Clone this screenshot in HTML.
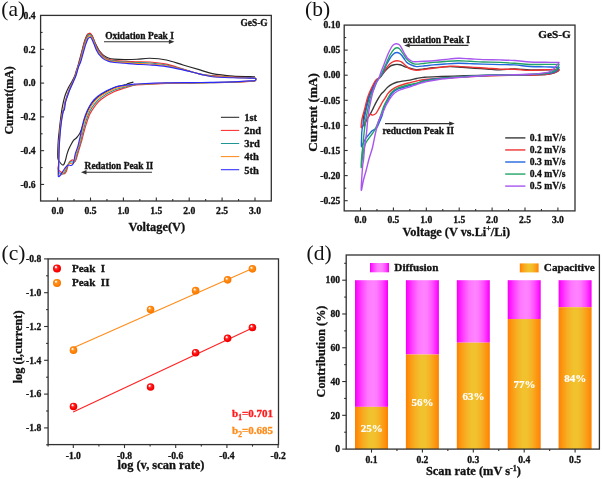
<!DOCTYPE html>
<html><head><meta charset="utf-8"><style>
html,body{margin:0;padding:0;background:#fff;}
body{width:602px;height:479px;overflow:hidden;}
svg{display:block;will-change:transform;font-family:"Liberation Serif", serif;}
</style></head><body>
<svg width="602" height="479" viewBox="0 0 602 479">
<rect x="0" y="0" width="602" height="479" fill="#fff"/>
<rect x="40.60" y="15.40" width="230.70" height="185.60" fill="none" stroke="#303030" stroke-width="1.3"/>
<line x1="57.60" y1="201.00" x2="57.60" y2="197.50" stroke="#303030" stroke-width="1.1"/>
<text x="57.60" y="213.50" font-size="9.6" font-weight="bold" text-anchor="middle" fill="#111" stroke="#111" stroke-width="0.3" >0.0</text>
<line x1="74.05" y1="201.00" x2="74.05" y2="199.00" stroke="#303030" stroke-width="1.1"/>
<line x1="90.50" y1="201.00" x2="90.50" y2="197.50" stroke="#303030" stroke-width="1.1"/>
<text x="90.50" y="213.50" font-size="9.6" font-weight="bold" text-anchor="middle" fill="#111" stroke="#111" stroke-width="0.3" >0.5</text>
<line x1="106.95" y1="201.00" x2="106.95" y2="199.00" stroke="#303030" stroke-width="1.1"/>
<line x1="123.40" y1="201.00" x2="123.40" y2="197.50" stroke="#303030" stroke-width="1.1"/>
<text x="123.40" y="213.50" font-size="9.6" font-weight="bold" text-anchor="middle" fill="#111" stroke="#111" stroke-width="0.3" >1.0</text>
<line x1="139.85" y1="201.00" x2="139.85" y2="199.00" stroke="#303030" stroke-width="1.1"/>
<line x1="156.30" y1="201.00" x2="156.30" y2="197.50" stroke="#303030" stroke-width="1.1"/>
<text x="156.30" y="213.50" font-size="9.6" font-weight="bold" text-anchor="middle" fill="#111" stroke="#111" stroke-width="0.3" >1.5</text>
<line x1="172.75" y1="201.00" x2="172.75" y2="199.00" stroke="#303030" stroke-width="1.1"/>
<line x1="189.20" y1="201.00" x2="189.20" y2="197.50" stroke="#303030" stroke-width="1.1"/>
<text x="189.20" y="213.50" font-size="9.6" font-weight="bold" text-anchor="middle" fill="#111" stroke="#111" stroke-width="0.3" >2.0</text>
<line x1="205.65" y1="201.00" x2="205.65" y2="199.00" stroke="#303030" stroke-width="1.1"/>
<line x1="222.10" y1="201.00" x2="222.10" y2="197.50" stroke="#303030" stroke-width="1.1"/>
<text x="222.10" y="213.50" font-size="9.6" font-weight="bold" text-anchor="middle" fill="#111" stroke="#111" stroke-width="0.3" >2.5</text>
<line x1="238.55" y1="201.00" x2="238.55" y2="199.00" stroke="#303030" stroke-width="1.1"/>
<line x1="255.00" y1="201.00" x2="255.00" y2="197.50" stroke="#303030" stroke-width="1.1"/>
<text x="255.00" y="213.50" font-size="9.6" font-weight="bold" text-anchor="middle" fill="#111" stroke="#111" stroke-width="0.3" >3.0</text>
<text x="35.60" y="18.74" font-size="9.6" font-weight="bold" text-anchor="end" fill="#111" stroke="#111" stroke-width="0.3" >0.4</text>
<line x1="40.60" y1="49.32" x2="44.10" y2="49.32" stroke="#303030" stroke-width="1.1"/>
<text x="35.60" y="52.52" font-size="9.6" font-weight="bold" text-anchor="end" fill="#111" stroke="#111" stroke-width="0.3" >0.2</text>
<line x1="40.60" y1="83.10" x2="44.10" y2="83.10" stroke="#303030" stroke-width="1.1"/>
<text x="35.60" y="86.30" font-size="9.6" font-weight="bold" text-anchor="end" fill="#111" stroke="#111" stroke-width="0.3" >0.0</text>
<line x1="40.60" y1="116.88" x2="44.10" y2="116.88" stroke="#303030" stroke-width="1.1"/>
<text x="35.60" y="120.08" font-size="9.6" font-weight="bold" text-anchor="end" fill="#111" stroke="#111" stroke-width="0.3" >-0.2</text>
<line x1="40.60" y1="150.66" x2="44.10" y2="150.66" stroke="#303030" stroke-width="1.1"/>
<text x="35.60" y="153.86" font-size="9.6" font-weight="bold" text-anchor="end" fill="#111" stroke="#111" stroke-width="0.3" >-0.4</text>
<line x1="40.60" y1="184.44" x2="44.10" y2="184.44" stroke="#303030" stroke-width="1.1"/>
<text x="35.60" y="187.64" font-size="9.6" font-weight="bold" text-anchor="end" fill="#111" stroke="#111" stroke-width="0.3" >-0.6</text>
<line x1="40.60" y1="32.43" x2="42.60" y2="32.43" stroke="#303030" stroke-width="1.1"/>
<line x1="40.60" y1="66.21" x2="42.60" y2="66.21" stroke="#303030" stroke-width="1.1"/>
<line x1="40.60" y1="99.99" x2="42.60" y2="99.99" stroke="#303030" stroke-width="1.1"/>
<line x1="40.60" y1="133.77" x2="42.60" y2="133.77" stroke="#303030" stroke-width="1.1"/>
<line x1="40.60" y1="167.55" x2="42.60" y2="167.55" stroke="#303030" stroke-width="1.1"/>
<text x="156.85" y="231.00" font-size="12.35" font-weight="bold" text-anchor="middle" fill="#111" stroke="#111" stroke-width="0.3" >Voltage(V)</text>
<text transform="translate(12.7,100.4) rotate(-90)" font-size="12" font-weight="bold" text-anchor="middle" fill="#111" stroke="#111" stroke-width="0.3">Current(mA)</text>
<text x="1.30" y="16.30" font-size="21.5" font-weight="normal" text-anchor="start" fill="#111" stroke="#111" stroke-width="0" >(a)</text>
<text x="267.60" y="26.20" font-size="9.4" font-weight="bold" text-anchor="end" fill="#111" stroke="#111" stroke-width="0.3" >GeS-G</text>
<text x="105.20" y="39.00" font-size="9.45" font-weight="bold" text-anchor="start" fill="#111" stroke="#111" stroke-width="0.3" >Oxidation Peak I</text>
<line x1="104.00" y1="41.70" x2="169.90" y2="41.70" stroke="#303030" stroke-width="1.1"/>
<path d="M174.40,41.70 L168.90,39.50 L168.90,43.90 Z" fill="#303030"/>
<text x="84.60" y="168.50" font-size="9.45" font-weight="bold" text-anchor="start" fill="#111" stroke="#111" stroke-width="0.3" >Redation Peak II</text>
<line x1="85.50" y1="172.30" x2="152.00" y2="172.30" stroke="#303030" stroke-width="1.1"/>
<path d="M81.00,172.30 L86.50,170.10 L86.50,174.50 Z" fill="#303030"/>
<line x1="220.90" y1="117.30" x2="239.20" y2="117.30" stroke="#262626" stroke-width="1.05"/>
<text x="244.20" y="121.10" font-size="10.5" font-weight="bold" text-anchor="start" fill="#111" stroke="#111" stroke-width="0.3" >1st</text>
<line x1="220.90" y1="130.40" x2="239.20" y2="130.40" stroke="#ff2b2b" stroke-width="1.05"/>
<text x="244.20" y="134.20" font-size="10.5" font-weight="bold" text-anchor="start" fill="#111" stroke="#111" stroke-width="0.3" >2nd</text>
<line x1="220.90" y1="143.50" x2="239.20" y2="143.50" stroke="#1e9696" stroke-width="1.05"/>
<text x="244.20" y="147.30" font-size="10.5" font-weight="bold" text-anchor="start" fill="#111" stroke="#111" stroke-width="0.3" >3rd</text>
<line x1="220.90" y1="156.60" x2="239.20" y2="156.60" stroke="#ff8a1e" stroke-width="1.05"/>
<text x="244.20" y="160.40" font-size="10.5" font-weight="bold" text-anchor="start" fill="#111" stroke="#111" stroke-width="0.3" >4th</text>
<line x1="220.90" y1="169.70" x2="239.20" y2="169.70" stroke="#2a2aff" stroke-width="1.05"/>
<text x="244.20" y="173.50" font-size="10.5" font-weight="bold" text-anchor="start" fill="#111" stroke="#111" stroke-width="0.3" >5th</text>
<path d="M133.40,82.10 C132.50,82.35 129.42,83.13 128.00,83.60 C126.58,84.07 126.90,84.33 124.90,84.90 C122.90,85.47 119.07,85.92 116.00,87.00 C112.93,88.08 109.75,89.55 106.50,91.40 C103.25,93.25 99.27,95.60 96.50,98.10 C93.73,100.60 91.72,103.37 89.90,106.40 C88.08,109.43 86.83,112.95 85.60,116.30 C84.37,119.65 83.43,123.72 82.50,126.50 C81.57,129.28 80.95,131.17 80.00,133.00 C79.05,134.83 77.88,136.27 76.80,137.50 C75.72,138.73 74.43,139.28 73.50,140.40 C72.57,141.52 72.00,142.73 71.20,144.20 C70.40,145.67 69.40,147.53 68.70,149.20 C68.00,150.87 67.55,152.32 67.00,154.20 C66.45,156.08 65.95,158.75 65.40,160.50 C64.85,162.25 64.27,164.02 63.70,164.70 C63.13,165.38 62.70,165.10 62.00,164.60 C61.30,164.10 60.18,162.73 59.50,161.70 C58.82,160.67 58.18,160.35 57.90,158.40 C57.62,156.45 57.73,153.07 57.80,150.00 C57.87,146.93 58.08,143.00 58.30,140.00 C58.52,137.00 58.78,135.00 59.10,132.00 C59.42,129.00 59.75,125.67 60.20,122.00 C60.65,118.33 61.27,113.37 61.80,110.00 C62.33,106.63 62.80,104.38 63.40,101.80 C64.00,99.22 64.53,96.93 65.40,94.50 C66.27,92.07 67.55,89.30 68.60,87.20 C69.65,85.10 70.67,83.82 71.70,81.90 C72.73,79.98 74.02,77.62 74.80,75.70 C75.58,73.78 75.93,71.85 76.40,70.40 C76.87,68.95 77.08,68.73 77.60,67.00 C78.12,65.27 78.87,62.33 79.50,60.00 C80.13,57.67 80.80,55.25 81.40,53.00 C82.00,50.75 82.53,48.58 83.10,46.50 C83.67,44.42 84.12,42.43 84.80,40.50 C85.48,38.57 86.50,36.05 87.20,34.90 C87.90,33.75 88.32,33.65 89.00,33.60 C89.68,33.55 90.60,33.82 91.30,34.60 C92.00,35.38 92.55,36.90 93.20,38.30 C93.85,39.70 94.48,41.47 95.20,43.00 C95.92,44.53 96.70,46.08 97.50,47.50 C98.30,48.92 98.92,50.15 100.00,51.50 C101.08,52.85 102.62,54.52 104.00,55.60 C105.38,56.68 106.63,57.42 108.30,58.00 C109.97,58.58 111.23,58.83 114.00,59.10 C116.77,59.37 121.07,59.57 124.90,59.60 C128.73,59.63 132.85,59.52 137.00,59.30 C141.15,59.08 144.90,58.18 149.80,58.30 C154.70,58.42 160.85,58.88 166.40,60.00 C171.95,61.12 177.50,63.35 183.10,65.00 C188.70,66.65 195.13,68.47 200.00,69.90 C204.87,71.33 206.80,72.57 212.30,73.60 C217.80,74.63 226.72,75.60 233.00,76.10 C239.28,76.60 246.33,76.48 250.00,76.60 C253.67,76.72 254.17,76.77 255.00,76.80" fill="none" stroke="#262626" stroke-width="1.15"/>
<path d="M58.30,169.50 C57.43,168.03 58.45,166.92 58.50,165.00 C58.55,163.08 58.57,160.50 58.60,158.00 C58.63,155.50 58.58,153.33 58.70,150.00 C58.82,146.67 59.05,141.83 59.30,138.00 C59.55,134.17 59.85,130.33 60.20,127.00 C60.55,123.67 60.97,120.67 61.40,118.00 C61.83,115.33 62.40,112.42 62.80,111.00 C63.20,109.58 63.47,110.87 63.80,109.50 C64.13,108.13 64.37,104.78 64.80,102.80 C65.23,100.82 65.70,99.68 66.40,97.60 C67.10,95.52 68.03,92.73 69.00,90.30 C69.97,87.87 71.17,85.43 72.20,83.00 C73.23,80.57 74.45,77.80 75.20,75.70 C75.95,73.60 76.25,71.85 76.70,70.40 C77.15,68.95 77.38,68.65 77.90,67.00 C78.42,65.35 79.17,62.83 79.80,60.50 C80.43,58.17 81.12,55.33 81.70,53.00 C82.28,50.67 82.75,48.58 83.30,46.50 C83.85,44.42 84.30,42.47 85.00,40.50 C85.70,38.53 86.77,35.92 87.50,34.70 C88.23,33.48 88.78,33.27 89.40,33.20 C90.02,33.13 90.67,33.73 91.20,34.30 C91.73,34.87 92.17,35.72 92.60,36.60 C93.03,37.48 93.40,38.53 93.80,39.60 C94.20,40.67 94.47,41.68 95.00,43.00 C95.53,44.32 96.30,46.10 97.00,47.50 C97.70,48.90 98.13,49.92 99.20,51.40 C100.27,52.88 101.88,55.10 103.40,56.40 C104.92,57.70 106.70,58.57 108.30,59.20 C109.90,59.83 110.23,59.85 113.00,60.20 C115.77,60.55 121.23,61.05 124.90,61.30 C128.57,61.55 130.85,61.58 135.00,61.70 C139.15,61.82 144.57,61.60 149.80,62.00 C155.03,62.40 160.85,62.92 166.40,64.10 C171.95,65.28 177.50,67.43 183.10,69.10 C188.70,70.77 195.13,73.02 200.00,74.10 C204.87,75.18 206.80,75.12 212.30,75.60 C217.80,76.08 226.72,76.65 233.00,77.00 C239.28,77.35 246.35,77.53 250.00,77.70 C253.65,77.87 253.90,77.73 254.90,78.00 C255.90,78.27 256.02,78.77 256.00,79.30 C255.98,79.83 255.85,80.83 254.80,81.20 C253.75,81.57 253.33,81.32 249.70,81.50 C246.07,81.68 239.62,82.08 233.00,82.30 C226.38,82.52 216.92,82.67 210.00,82.80 C203.08,82.93 198.77,83.00 191.50,83.10 C184.23,83.20 174.73,83.15 166.40,83.40 C158.07,83.65 147.07,84.25 141.50,84.60 C135.93,84.95 135.77,84.93 133.00,85.50 C130.23,86.07 128.08,86.95 124.90,88.00 C121.72,89.05 117.83,89.93 113.90,91.80 C109.97,93.67 104.43,96.87 101.30,99.20 C98.17,101.53 96.98,103.37 95.10,105.80 C93.22,108.23 91.47,110.78 90.00,113.80 C88.53,116.82 87.33,120.77 86.30,123.90 C85.27,127.03 84.53,129.92 83.80,132.60 C83.07,135.28 82.47,137.93 81.90,140.00 C81.33,142.07 81.07,142.77 80.40,145.00 C79.73,147.23 78.60,151.03 77.90,153.40 C77.20,155.77 76.77,157.82 76.20,159.20 C75.63,160.58 75.05,161.57 74.50,161.70 C73.95,161.83 73.45,160.20 72.90,160.00 C72.35,159.80 71.90,159.93 71.20,160.50 C70.50,161.07 69.53,161.53 68.70,163.40 C67.87,165.27 67.03,169.97 66.20,171.70 C65.37,173.43 65.02,174.17 63.70,173.80 C62.38,173.43 59.17,170.97 58.30,169.50 Z" fill="none" stroke="#ff2b2b" stroke-width="1.15"/>
<path d="M58.30,171.81 C57.63,170.56 58.47,168.89 58.53,166.70 C58.60,164.51 58.62,161.46 58.67,158.68 C58.72,155.90 58.70,153.45 58.84,150.00 C58.97,146.55 59.21,141.83 59.47,138.00 C59.73,134.17 60.05,130.33 60.40,127.00 C60.76,123.67 61.17,120.67 61.60,118.00 C62.04,115.33 62.60,112.42 63.00,111.00 C63.40,109.58 63.67,110.87 64.00,109.50 C64.34,108.13 64.57,104.78 65.00,102.80 C65.44,100.82 65.90,99.68 66.60,97.60 C67.30,95.52 68.24,92.73 69.20,90.30 C70.17,87.87 71.36,85.43 72.40,83.00 C73.44,80.57 74.68,77.80 75.44,75.70 C76.20,73.60 76.53,71.85 76.97,70.40 C77.42,68.95 77.58,68.59 78.10,67.00 C78.63,65.41 79.50,63.03 80.14,60.84 C80.78,58.65 81.39,56.07 81.97,53.85 C82.55,51.63 83.05,49.55 83.61,47.52 C84.16,45.49 84.63,43.55 85.31,41.66 C85.98,39.76 86.93,37.31 87.64,36.13 C88.34,34.95 88.94,34.66 89.54,34.56 C90.13,34.47 90.70,35.00 91.20,35.56 C91.70,36.12 92.11,36.97 92.57,37.93 C93.02,38.88 93.48,40.09 93.94,41.27 C94.39,42.45 94.77,43.71 95.31,45.01 C95.85,46.30 96.52,47.78 97.17,49.03 C97.82,50.28 98.16,51.15 99.20,52.52 C100.24,53.89 101.92,56.04 103.40,57.25 C104.88,58.46 106.46,59.17 108.06,59.78 C109.66,60.39 110.19,60.55 113.00,60.91 C115.81,61.28 121.23,61.71 124.90,61.98 C128.57,62.25 130.85,62.38 135.00,62.55 C139.15,62.72 144.57,62.62 149.80,63.02 C155.03,63.42 160.85,63.89 166.40,64.95 C171.95,66.01 177.50,67.85 183.10,69.37 C188.70,70.90 195.13,73.00 200.00,74.10 C204.87,75.20 206.80,75.45 212.30,75.97 C217.80,76.50 226.72,76.96 233.00,77.27 C239.28,77.58 246.35,77.70 250.00,77.84 C253.65,77.97 253.90,77.83 254.90,78.07 C255.90,78.31 256.03,78.77 256.00,79.27 C255.97,79.76 255.75,80.69 254.70,81.03 C253.65,81.37 253.32,81.11 249.70,81.30 C246.08,81.48 239.62,81.94 233.00,82.16 C226.38,82.39 216.92,82.54 210.00,82.66 C203.08,82.79 198.77,82.84 191.50,82.93 C184.23,83.02 174.73,83.00 166.40,83.23 C158.07,83.46 147.07,83.98 141.50,84.29 C135.93,84.60 135.77,84.63 133.00,85.09 C130.23,85.56 128.08,86.21 124.90,87.08 C121.72,87.96 117.83,88.62 113.90,90.34 C109.97,92.05 104.51,95.12 101.30,97.36 C98.09,99.61 96.61,101.44 94.66,103.83 C92.71,106.22 91.06,108.78 89.59,111.69 C88.13,114.61 86.90,118.26 85.86,121.32 C84.82,124.38 84.11,127.13 83.36,130.05 C82.60,132.97 81.95,136.27 81.32,138.81 C80.69,141.35 80.30,142.84 79.58,145.27 C78.87,147.70 77.73,151.03 77.05,153.40 C76.37,155.77 75.98,157.99 75.49,159.47 C74.99,160.95 74.62,161.88 74.09,162.28 C73.56,162.68 72.95,161.91 72.32,161.87 C71.70,161.83 71.10,161.59 70.35,162.03 C69.60,162.47 68.68,163.01 67.85,164.52 C67.02,166.04 66.23,169.50 65.35,171.12 C64.47,172.74 63.75,174.13 62.58,174.24 C61.40,174.36 58.97,173.07 58.30,171.81 Z" fill="none" stroke="#1e9696" stroke-width="1.15"/>
<path d="M58.30,174.06 C57.81,173.00 58.49,170.80 58.57,168.35 C58.64,165.90 58.67,162.40 58.73,159.34 C58.80,156.28 58.82,153.56 58.97,150.00 C59.12,146.44 59.36,141.83 59.63,138.00 C59.91,134.17 60.24,130.33 60.60,127.00 C60.96,123.67 61.37,120.67 61.80,118.00 C62.24,115.33 62.80,112.42 63.20,111.00 C63.60,109.58 63.87,110.87 64.20,109.50 C64.54,108.13 64.77,104.78 65.20,102.80 C65.64,100.82 66.10,99.68 66.80,97.60 C67.50,95.52 68.44,92.73 69.40,90.30 C70.37,87.87 71.56,85.43 72.60,83.00 C73.65,80.57 74.90,77.80 75.67,75.70 C76.44,73.60 76.80,71.85 77.24,70.40 C77.67,68.95 77.76,68.54 78.30,67.00 C78.84,65.46 79.81,63.22 80.47,61.17 C81.13,59.12 81.66,56.78 82.24,54.67 C82.81,52.56 83.34,50.49 83.90,48.51 C84.46,46.53 84.96,44.61 85.60,42.78 C86.25,40.95 87.09,38.66 87.77,37.51 C88.45,36.36 89.10,36.00 89.67,35.88 C90.24,35.76 90.72,36.22 91.20,36.78 C91.68,37.33 92.05,38.20 92.53,39.21 C93.01,40.23 93.56,41.59 94.07,42.88 C94.58,44.17 95.06,45.68 95.60,46.95 C96.15,48.23 96.74,49.41 97.33,50.52 C97.93,51.62 98.19,52.35 99.20,53.61 C100.21,54.87 101.96,56.95 103.40,58.07 C104.84,59.20 106.23,59.75 107.83,60.34 C109.43,60.93 110.16,61.22 113.00,61.61 C115.84,61.99 121.23,62.35 124.90,62.64 C128.57,62.93 130.85,63.15 135.00,63.38 C139.15,63.60 144.57,63.61 149.80,64.01 C155.03,64.41 160.85,64.84 166.40,65.77 C171.95,66.71 177.50,68.25 183.10,69.64 C188.70,71.02 195.13,72.98 200.00,74.10 C204.87,75.22 206.80,75.76 212.30,76.34 C217.80,76.91 226.72,77.26 233.00,77.54 C239.28,77.81 246.35,77.87 250.00,77.97 C253.65,78.07 253.90,77.92 254.90,78.13 C255.90,78.34 256.05,78.78 256.00,79.23 C255.95,79.69 255.65,80.55 254.60,80.86 C253.55,81.18 253.30,80.90 249.70,81.10 C246.10,81.29 239.62,81.79 233.00,82.03 C226.38,82.27 216.92,82.41 210.00,82.53 C203.08,82.65 198.77,82.68 191.50,82.76 C184.23,82.85 174.73,82.86 166.40,83.06 C158.07,83.27 147.07,83.73 141.50,84.00 C135.93,84.27 135.77,84.33 133.00,84.70 C130.23,85.06 128.08,85.49 124.90,86.19 C121.72,86.89 117.83,87.35 113.90,88.92 C109.97,90.48 104.58,93.42 101.30,95.58 C98.02,97.75 96.25,99.57 94.23,101.91 C92.21,104.26 90.66,106.83 89.20,109.65 C87.73,112.46 86.47,115.82 85.43,118.81 C84.38,121.80 83.71,124.43 82.93,127.57 C82.15,130.72 81.45,134.66 80.76,137.65 C80.07,140.65 79.55,142.91 78.79,145.54 C78.04,148.16 76.89,151.03 76.23,153.40 C75.56,155.77 75.21,158.16 74.79,159.74 C74.37,161.31 74.20,162.18 73.70,162.84 C73.19,163.50 72.46,163.57 71.76,163.69 C71.07,163.80 70.31,163.19 69.53,163.51 C68.74,163.84 67.86,164.44 67.03,165.61 C66.19,166.79 65.45,169.05 64.53,170.56 C63.60,172.07 62.53,174.09 61.49,174.67 C60.45,175.25 58.79,175.11 58.30,174.06 Z" fill="none" stroke="#ff8a1e" stroke-width="1.15"/>
<path d="M58.30,176.30 C58.00,175.45 58.52,172.72 58.60,170.00 C58.68,167.28 58.72,163.33 58.80,160.00 C58.88,156.67 58.93,153.67 59.10,150.00 C59.27,146.33 59.52,141.83 59.80,138.00 C60.08,134.17 60.43,130.33 60.80,127.00 C61.17,123.67 61.57,120.67 62.00,118.00 C62.43,115.33 63.00,112.42 63.40,111.00 C63.80,109.58 64.07,110.87 64.40,109.50 C64.73,108.13 64.97,104.78 65.40,102.80 C65.83,100.82 66.30,99.68 67.00,97.60 C67.70,95.52 68.63,92.73 69.60,90.30 C70.57,87.87 71.75,85.43 72.80,83.00 C73.85,80.57 75.12,77.80 75.90,75.70 C76.68,73.60 77.07,71.85 77.50,70.40 C77.93,68.95 77.95,68.48 78.50,67.00 C79.05,65.52 80.13,63.42 80.80,61.50 C81.47,59.58 81.93,57.50 82.50,55.50 C83.07,53.50 83.63,51.43 84.20,49.50 C84.77,47.57 85.28,45.67 85.90,43.90 C86.52,42.13 87.25,40.02 87.90,38.90 C88.55,37.78 89.25,37.35 89.80,37.20 C90.35,37.05 90.75,37.45 91.20,38.00 C91.65,38.55 92.00,39.42 92.50,40.50 C93.00,41.58 93.63,43.10 94.20,44.50 C94.77,45.90 95.35,47.65 95.90,48.90 C96.45,50.15 96.95,51.03 97.50,52.00 C98.05,52.97 98.22,53.55 99.20,54.70 C100.18,55.85 102.00,57.87 103.40,58.90 C104.80,59.93 106.00,60.33 107.60,60.90 C109.20,61.47 110.12,61.90 113.00,62.30 C115.88,62.70 121.23,62.98 124.90,63.30 C128.57,63.62 130.85,63.92 135.00,64.20 C139.15,64.48 144.57,64.60 149.80,65.00 C155.03,65.40 160.85,65.78 166.40,66.60 C171.95,67.42 177.50,68.65 183.10,69.90 C188.70,71.15 195.13,72.97 200.00,74.10 C204.87,75.23 206.80,76.08 212.30,76.70 C217.80,77.32 226.72,77.57 233.00,77.80 C239.28,78.03 246.35,78.03 250.00,78.10 C253.65,78.17 253.90,78.02 254.90,78.20 C255.90,78.38 256.07,78.78 256.00,79.20 C255.93,79.62 255.55,80.42 254.50,80.70 C253.45,80.98 253.28,80.70 249.70,80.90 C246.12,81.10 239.62,81.65 233.00,81.90 C226.38,82.15 216.92,82.28 210.00,82.40 C203.08,82.52 198.77,82.52 191.50,82.60 C184.23,82.68 174.73,82.72 166.40,82.90 C158.07,83.08 147.07,83.47 141.50,83.70 C135.93,83.93 135.77,84.03 133.00,84.30 C130.23,84.57 128.08,84.77 124.90,85.30 C121.72,85.83 117.83,86.08 113.90,87.50 C109.97,88.92 104.65,91.72 101.30,93.80 C97.95,95.88 95.88,97.70 93.80,100.00 C91.72,102.30 90.27,104.88 88.80,107.60 C87.33,110.32 86.05,113.38 85.00,116.30 C83.95,119.22 83.30,121.73 82.50,125.10 C81.70,128.47 80.95,133.05 80.20,136.50 C79.45,139.95 78.80,142.98 78.00,145.80 C77.20,148.62 76.05,151.03 75.40,153.40 C74.75,155.77 74.45,158.33 74.10,160.00 C73.75,161.67 73.78,162.48 73.30,163.40 C72.82,164.32 71.97,165.23 71.20,165.50 C70.43,165.77 69.53,164.80 68.70,165.00 C67.87,165.20 67.03,165.87 66.20,166.70 C65.37,167.53 64.67,168.60 63.70,170.00 C62.73,171.40 61.30,174.05 60.40,175.10 C59.50,176.15 58.60,177.15 58.30,176.30 Z" fill="none" stroke="#2a2aff" stroke-width="1.15"/>
<rect x="344.20" y="25.10" width="230.80" height="185.80" fill="none" stroke="#303030" stroke-width="1.3"/>
<line x1="360.50" y1="210.90" x2="360.50" y2="207.40" stroke="#303030" stroke-width="1.1"/>
<text x="360.50" y="223.30" font-size="9.6" font-weight="bold" text-anchor="middle" fill="#111" stroke="#111" stroke-width="0.3" >0.0</text>
<line x1="376.95" y1="210.90" x2="376.95" y2="208.90" stroke="#303030" stroke-width="1.1"/>
<line x1="393.40" y1="210.90" x2="393.40" y2="207.40" stroke="#303030" stroke-width="1.1"/>
<text x="393.40" y="223.30" font-size="9.6" font-weight="bold" text-anchor="middle" fill="#111" stroke="#111" stroke-width="0.3" >0.5</text>
<line x1="409.85" y1="210.90" x2="409.85" y2="208.90" stroke="#303030" stroke-width="1.1"/>
<line x1="426.30" y1="210.90" x2="426.30" y2="207.40" stroke="#303030" stroke-width="1.1"/>
<text x="426.30" y="223.30" font-size="9.6" font-weight="bold" text-anchor="middle" fill="#111" stroke="#111" stroke-width="0.3" >1.0</text>
<line x1="442.75" y1="210.90" x2="442.75" y2="208.90" stroke="#303030" stroke-width="1.1"/>
<line x1="459.20" y1="210.90" x2="459.20" y2="207.40" stroke="#303030" stroke-width="1.1"/>
<text x="459.20" y="223.30" font-size="9.6" font-weight="bold" text-anchor="middle" fill="#111" stroke="#111" stroke-width="0.3" >1.5</text>
<line x1="475.65" y1="210.90" x2="475.65" y2="208.90" stroke="#303030" stroke-width="1.1"/>
<line x1="492.10" y1="210.90" x2="492.10" y2="207.40" stroke="#303030" stroke-width="1.1"/>
<text x="492.10" y="223.30" font-size="9.6" font-weight="bold" text-anchor="middle" fill="#111" stroke="#111" stroke-width="0.3" >2.0</text>
<line x1="508.55" y1="210.90" x2="508.55" y2="208.90" stroke="#303030" stroke-width="1.1"/>
<line x1="525.00" y1="210.90" x2="525.00" y2="207.40" stroke="#303030" stroke-width="1.1"/>
<text x="525.00" y="223.30" font-size="9.6" font-weight="bold" text-anchor="middle" fill="#111" stroke="#111" stroke-width="0.3" >2.5</text>
<line x1="541.45" y1="210.90" x2="541.45" y2="208.90" stroke="#303030" stroke-width="1.1"/>
<line x1="557.90" y1="210.90" x2="557.90" y2="207.40" stroke="#303030" stroke-width="1.1"/>
<text x="557.90" y="223.30" font-size="9.6" font-weight="bold" text-anchor="middle" fill="#111" stroke="#111" stroke-width="0.3" >3.0</text>
<text x="340.30" y="28.20" font-size="9.6" font-weight="bold" text-anchor="end" fill="#111" stroke="#111" stroke-width="0.3" >0.10</text>
<line x1="344.20" y1="50.10" x2="347.70" y2="50.10" stroke="#303030" stroke-width="1.1"/>
<text x="340.30" y="53.30" font-size="9.6" font-weight="bold" text-anchor="end" fill="#111" stroke="#111" stroke-width="0.3" >0.05</text>
<line x1="344.20" y1="75.20" x2="347.70" y2="75.20" stroke="#303030" stroke-width="1.1"/>
<text x="340.30" y="78.40" font-size="9.6" font-weight="bold" text-anchor="end" fill="#111" stroke="#111" stroke-width="0.3" >0.00</text>
<line x1="344.20" y1="100.30" x2="347.70" y2="100.30" stroke="#303030" stroke-width="1.1"/>
<text x="340.30" y="103.50" font-size="9.6" font-weight="bold" text-anchor="end" fill="#111" stroke="#111" stroke-width="0.3" >-0.05</text>
<line x1="344.20" y1="125.40" x2="347.70" y2="125.40" stroke="#303030" stroke-width="1.1"/>
<text x="340.30" y="128.60" font-size="9.6" font-weight="bold" text-anchor="end" fill="#111" stroke="#111" stroke-width="0.3" >-0.10</text>
<line x1="344.20" y1="150.50" x2="347.70" y2="150.50" stroke="#303030" stroke-width="1.1"/>
<text x="340.30" y="153.70" font-size="9.6" font-weight="bold" text-anchor="end" fill="#111" stroke="#111" stroke-width="0.3" >-0.15</text>
<line x1="344.20" y1="175.60" x2="347.70" y2="175.60" stroke="#303030" stroke-width="1.1"/>
<text x="340.30" y="178.80" font-size="9.6" font-weight="bold" text-anchor="end" fill="#111" stroke="#111" stroke-width="0.3" >-0.20</text>
<line x1="344.20" y1="200.70" x2="347.70" y2="200.70" stroke="#303030" stroke-width="1.1"/>
<text x="340.30" y="203.90" font-size="9.6" font-weight="bold" text-anchor="end" fill="#111" stroke="#111" stroke-width="0.3" >-0.25</text>
<line x1="344.20" y1="37.55" x2="346.20" y2="37.55" stroke="#303030" stroke-width="1.1"/>
<line x1="344.20" y1="62.65" x2="346.20" y2="62.65" stroke="#303030" stroke-width="1.1"/>
<line x1="344.20" y1="87.75" x2="346.20" y2="87.75" stroke="#303030" stroke-width="1.1"/>
<line x1="344.20" y1="112.85" x2="346.20" y2="112.85" stroke="#303030" stroke-width="1.1"/>
<line x1="344.20" y1="137.95" x2="346.20" y2="137.95" stroke="#303030" stroke-width="1.1"/>
<line x1="344.20" y1="163.05" x2="346.20" y2="163.05" stroke="#303030" stroke-width="1.1"/>
<line x1="344.20" y1="188.15" x2="346.20" y2="188.15" stroke="#303030" stroke-width="1.1"/>
<text x="456.3" y="235.9" font-size="12.3" font-weight="bold" text-anchor="middle" fill="#111" stroke="#111" stroke-width="0.3">Voltage (V vs.Li<tspan font-size="8" dy="-4.5">+</tspan><tspan dy="4.5">/Li)</tspan></text>
<text transform="translate(317.3,112.4) rotate(-90)" font-size="13.2" font-weight="bold" text-anchor="middle" fill="#111" stroke="#111" stroke-width="0.3">Current (mA)</text>
<text x="305.00" y="16.30" font-size="21.5" font-weight="normal" text-anchor="start" fill="#111" stroke="#111" stroke-width="0" >(b)</text>
<text x="570.70" y="38.30" font-size="11.2" font-weight="bold" text-anchor="end" fill="#111" stroke="#111" stroke-width="0.3" >GeS-G</text>
<text x="402.80" y="42.50" font-size="9.6" font-weight="bold" text-anchor="start" fill="#111" stroke="#111" stroke-width="0.3" >oxidation Peak I</text>
<line x1="408.70" y1="45.40" x2="468.40" y2="45.40" stroke="#303030" stroke-width="1.1"/>
<path d="M404.20,45.40 L409.70,43.20 L409.70,47.60 Z" fill="#303030"/>
<text x="382.50" y="134.00" font-size="9.55" font-weight="bold" text-anchor="start" fill="#111" stroke="#111" stroke-width="0.3" >reduction Peak II</text>
<line x1="385.00" y1="123.60" x2="450.20" y2="123.60" stroke="#303030" stroke-width="1.1"/>
<path d="M454.70,123.60 L449.20,121.40 L449.20,125.80 Z" fill="#303030"/>
<line x1="505.20" y1="137.90" x2="525.40" y2="137.90" stroke="#3a3a3a" stroke-width="1.4"/>
<text x="529.80" y="141.10" font-size="9.6" font-weight="bold" text-anchor="start" fill="#111" stroke="#111" stroke-width="0.3" >0.1 mV/s</text>
<line x1="505.20" y1="149.95" x2="525.40" y2="149.95" stroke="#ee3333" stroke-width="1.4"/>
<text x="529.80" y="153.15" font-size="9.6" font-weight="bold" text-anchor="start" fill="#111" stroke="#111" stroke-width="0.3" >0.2 mV/s</text>
<line x1="505.20" y1="162.00" x2="525.40" y2="162.00" stroke="#2266dd" stroke-width="1.4"/>
<text x="529.80" y="165.20" font-size="9.6" font-weight="bold" text-anchor="start" fill="#111" stroke="#111" stroke-width="0.3" >0.3 mV/s</text>
<line x1="505.20" y1="174.05" x2="525.40" y2="174.05" stroke="#22a366" stroke-width="1.4"/>
<text x="529.80" y="177.25" font-size="9.6" font-weight="bold" text-anchor="start" fill="#111" stroke="#111" stroke-width="0.3" >0.4 mV/s</text>
<line x1="505.20" y1="186.10" x2="525.40" y2="186.10" stroke="#a855ee" stroke-width="1.4"/>
<text x="529.80" y="189.30" font-size="9.6" font-weight="bold" text-anchor="start" fill="#111" stroke="#111" stroke-width="0.3" >0.5 mV/s</text>
<path d="M364.30,126.00 C363.92,125.58 363.25,121.83 363.20,120.00 C363.15,118.17 363.63,116.67 364.00,115.00 C364.37,113.33 364.77,112.50 365.40,110.00 C366.03,107.50 367.13,102.50 367.80,100.00 C368.47,97.50 368.78,96.67 369.40,95.00 C370.02,93.33 370.77,91.67 371.50,90.00 C372.23,88.33 372.92,86.67 373.80,85.00 C374.68,83.33 375.68,81.33 376.80,80.00 C377.92,78.67 379.13,78.50 380.50,77.00 C381.87,75.50 383.42,72.78 385.00,71.00 C386.58,69.22 388.50,67.33 390.00,66.30 C391.50,65.27 392.83,65.12 394.00,64.80 C395.17,64.48 396.00,64.40 397.00,64.40 C398.00,64.40 399.07,64.58 400.00,64.80 C400.93,65.02 401.60,65.30 402.60,65.70 C403.60,66.10 404.77,66.78 406.00,67.20 C407.23,67.62 408.23,67.80 410.00,68.20 C411.77,68.60 414.10,69.50 416.60,69.60 C419.10,69.70 422.27,69.10 425.00,68.80 C427.73,68.50 428.87,68.17 433.00,67.80 C437.13,67.43 444.97,66.68 449.80,66.60 C454.63,66.52 457.83,67.03 462.00,67.30 C466.17,67.57 470.63,67.92 474.80,68.20 C478.97,68.48 482.80,68.72 487.00,69.00 C491.20,69.28 495.37,69.92 500.00,69.90 C504.63,69.88 509.80,68.88 514.80,68.90 C519.80,68.92 524.97,69.83 530.00,70.00 C535.03,70.17 540.38,69.93 545.00,69.90 C549.62,69.87 555.42,69.73 557.70,69.80 C559.98,69.87 558.62,70.10 558.70,70.30 C558.78,70.50 558.48,70.78 558.20,71.00 C557.92,71.22 557.63,71.28 557.00,71.60 C556.37,71.92 556.00,72.43 554.40,72.90 C552.80,73.37 550.02,74.08 547.40,74.40 C544.78,74.72 541.60,74.70 538.70,74.80 C535.80,74.90 533.98,74.93 530.00,75.00 C526.02,75.07 519.80,75.17 514.80,75.20 C509.80,75.23 505.30,75.15 500.00,75.20 C494.70,75.25 488.90,75.40 483.00,75.50 C477.10,75.60 471.52,75.63 464.60,75.80 C457.68,75.97 448.15,76.27 441.50,76.50 C434.85,76.73 428.85,76.87 424.70,77.20 C420.55,77.53 419.05,78.02 416.60,78.50 C414.15,78.98 413.17,79.52 410.00,80.10 C406.83,80.68 400.50,81.37 397.60,82.00 C394.70,82.63 394.27,83.02 392.60,83.90 C390.93,84.78 389.07,86.03 387.60,87.30 C386.13,88.57 384.88,90.35 383.80,91.50 C382.72,92.65 382.25,92.63 381.10,94.20 C379.95,95.77 378.17,98.67 376.90,100.90 C375.63,103.13 374.48,105.65 373.50,107.60 C372.52,109.55 371.67,111.37 371.00,112.60 C370.33,113.83 370.08,114.02 369.50,115.00 C368.92,115.98 368.17,117.25 367.50,118.50 C366.83,119.75 366.03,121.25 365.50,122.50 C364.97,123.75 364.68,126.42 364.30,126.00 Z" fill="none" stroke="#3a3a3a" stroke-width="1.4"/>
<path d="M361.25,127.50 C360.98,126.67 361.51,122.08 361.80,120.00 C362.09,117.92 362.57,116.67 363.00,115.00 C363.43,113.33 363.75,112.50 364.40,110.00 C365.05,107.50 366.22,102.50 366.90,100.00 C367.58,97.50 367.88,96.67 368.50,95.00 C369.12,93.33 369.85,91.67 370.60,90.00 C371.35,88.33 372.10,86.67 373.00,85.00 C373.90,83.33 375.08,81.12 376.00,80.00 C376.92,78.88 377.75,78.83 378.50,78.30 C379.25,77.77 379.42,78.18 380.50,76.80 C381.58,75.42 383.42,72.17 385.00,70.00 C386.58,67.83 388.53,65.25 390.00,63.80 C391.47,62.35 392.63,61.82 393.80,61.30 C394.97,60.78 396.05,60.73 397.00,60.70 C397.95,60.67 398.77,60.90 399.50,61.10 C400.23,61.30 400.65,61.42 401.40,61.90 C402.15,62.38 403.17,63.27 404.00,64.00 C404.83,64.73 405.40,65.50 406.40,66.30 C407.40,67.10 408.30,68.15 410.00,68.80 C411.70,69.45 414.10,70.12 416.60,70.20 C419.10,70.28 422.23,69.63 425.00,69.30 C427.77,68.97 429.07,68.72 433.20,68.20 C437.33,67.68 445.00,66.47 449.80,66.20 C454.60,65.93 457.83,66.40 462.00,66.60 C466.17,66.80 470.63,67.13 474.80,67.40 C478.97,67.67 482.80,67.92 487.00,68.20 C491.20,68.48 495.37,68.92 500.00,69.10 C504.63,69.28 509.80,69.08 514.80,69.30 C519.80,69.52 524.97,70.32 530.00,70.40 C535.03,70.48 540.38,69.98 545.00,69.80 C549.62,69.62 555.42,69.30 557.70,69.30 C559.98,69.30 558.62,69.58 558.70,69.80 C558.78,70.02 558.48,70.37 558.20,70.60 C557.92,70.83 557.63,70.87 557.00,71.20 C556.37,71.53 556.00,72.10 554.40,72.60 C552.80,73.10 550.02,73.85 547.40,74.20 C544.78,74.55 541.60,74.57 538.70,74.70 C535.80,74.83 533.98,74.90 530.00,75.00 C526.02,75.10 519.80,75.22 514.80,75.30 C509.80,75.38 505.30,75.38 500.00,75.50 C494.70,75.62 488.60,75.78 483.00,76.00 C477.40,76.22 473.32,76.43 466.40,76.80 C459.48,77.17 448.40,77.75 441.50,78.20 C434.60,78.65 429.15,79.03 425.00,79.50 C420.85,79.97 419.10,80.48 416.60,81.00 C414.10,81.52 413.17,81.70 410.00,82.60 C406.83,83.50 400.72,85.15 397.60,86.40 C394.48,87.65 392.97,88.85 391.30,90.10 C389.63,91.35 388.48,92.80 387.60,93.90 C386.72,95.00 386.82,95.40 386.00,96.70 C385.18,98.00 383.80,99.88 382.70,101.70 C381.60,103.52 380.52,105.65 379.40,107.60 C378.28,109.55 377.12,112.15 376.00,113.40 C374.88,114.65 373.67,114.95 372.70,115.10 C371.73,115.25 370.92,114.03 370.20,114.30 C369.48,114.57 369.12,115.75 368.40,116.70 C367.68,117.65 366.73,118.62 365.90,120.00 C365.07,121.38 364.17,123.75 363.40,125.00 C362.62,126.25 361.52,128.33 361.25,127.50 Z" fill="none" stroke="#ee3333" stroke-width="1.4"/>
<path d="M361.50,146.80 C361.18,146.05 361.52,140.80 361.60,138.00 C361.68,135.20 361.60,133.00 362.00,130.00 C362.40,127.00 363.33,123.33 364.00,120.00 C364.67,116.67 365.25,113.33 366.00,110.00 C366.75,106.67 367.83,102.50 368.50,100.00 C369.17,97.50 369.37,96.67 370.00,95.00 C370.63,93.33 371.55,91.67 372.30,90.00 C373.05,88.33 373.67,86.67 374.50,85.00 C375.33,83.33 376.17,81.58 377.30,80.00 C378.43,78.42 379.80,78.00 381.30,75.50 C382.80,73.00 384.63,68.20 386.30,65.00 C387.97,61.80 389.93,58.27 391.30,56.30 C392.67,54.33 393.55,53.83 394.50,53.20 C395.45,52.57 396.17,52.48 397.00,52.50 C397.83,52.52 398.77,52.88 399.50,53.30 C400.23,53.72 400.65,54.13 401.40,55.00 C402.15,55.87 403.17,57.35 404.00,58.50 C404.83,59.65 405.40,60.92 406.40,61.90 C407.40,62.88 408.30,63.62 410.00,64.40 C411.70,65.18 414.10,66.37 416.60,66.60 C419.10,66.83 422.23,66.08 425.00,65.80 C427.77,65.52 429.87,65.20 433.20,64.90 C436.53,64.60 440.85,64.27 445.00,64.00 C449.15,63.73 453.93,63.37 458.10,63.30 C462.27,63.23 465.83,63.47 470.00,63.60 C474.17,63.73 478.10,63.93 483.10,64.10 C488.10,64.27 494.72,64.47 500.00,64.60 C505.28,64.73 509.80,64.58 514.80,64.90 C519.80,65.22 524.97,66.17 530.00,66.50 C535.03,66.83 540.38,66.78 545.00,66.90 C549.62,67.02 555.42,67.03 557.70,67.20 C559.98,67.37 558.68,67.53 558.70,67.90 C558.72,68.27 558.22,68.92 557.80,69.40 C557.38,69.88 556.95,70.32 556.20,70.80 C555.45,71.28 554.28,71.92 553.30,72.30 C552.32,72.68 552.02,72.83 550.30,73.10 C548.58,73.37 546.38,73.67 543.00,73.90 C539.62,74.13 534.70,74.35 530.00,74.50 C525.30,74.65 519.80,74.72 514.80,74.80 C509.80,74.88 505.30,74.88 500.00,75.00 C494.70,75.12 488.60,75.25 483.00,75.50 C477.40,75.75 473.32,76.05 466.40,76.50 C459.48,76.95 448.40,77.53 441.50,78.20 C434.60,78.87 429.15,79.57 425.00,80.50 C420.85,81.43 419.10,82.97 416.60,83.80 C414.10,84.63 413.17,84.60 410.00,85.50 C406.83,86.40 400.63,87.87 397.60,89.20 C394.57,90.53 393.40,91.70 391.80,93.50 C390.20,95.30 389.22,97.92 388.00,100.00 C386.78,102.08 385.46,103.50 384.50,106.00 C383.54,108.50 383.04,112.46 382.25,115.00 C381.46,117.54 380.58,119.27 379.75,121.25 C378.92,123.23 378.08,125.54 377.25,126.90 C376.42,128.26 375.69,128.68 374.75,129.40 C373.81,130.12 372.64,130.32 371.60,131.25 C370.56,132.18 369.43,133.86 368.50,135.00 C367.57,136.14 366.83,136.85 366.00,138.10 C365.17,139.35 364.25,141.05 363.50,142.50 C362.75,143.95 361.82,147.55 361.50,146.80 Z" fill="none" stroke="#2266dd" stroke-width="1.4"/>
<path d="M361.25,167.50 C361.17,166.83 361.53,158.58 361.80,155.00 C362.07,151.42 362.52,149.67 362.90,146.00 C363.28,142.33 363.63,137.33 364.10,133.00 C364.57,128.67 365.10,123.83 365.70,120.00 C366.30,116.17 367.02,113.33 367.70,110.00 C368.38,106.67 369.25,102.50 369.80,100.00 C370.35,97.50 370.38,96.67 371.00,95.00 C371.62,93.33 372.75,91.67 373.50,90.00 C374.25,88.33 374.77,86.67 375.50,85.00 C376.23,83.33 377.07,81.50 377.90,80.00 C378.73,78.50 379.32,78.28 380.50,76.00 C381.68,73.72 383.42,69.80 385.00,66.30 C386.58,62.80 388.53,57.82 390.00,55.00 C391.47,52.18 392.63,50.60 393.80,49.40 C394.97,48.20 396.05,47.90 397.00,47.80 C397.95,47.70 398.77,48.22 399.50,48.80 C400.23,49.38 400.65,50.27 401.40,51.30 C402.15,52.33 403.17,53.75 404.00,55.00 C404.83,56.25 405.40,57.65 406.40,58.80 C407.40,59.95 408.57,61.02 410.00,61.90 C411.43,62.78 412.50,63.88 415.00,64.10 C417.50,64.32 421.97,63.48 425.00,63.20 C428.03,62.92 429.87,62.68 433.20,62.40 C436.53,62.12 440.85,61.77 445.00,61.50 C449.15,61.23 453.93,60.83 458.10,60.80 C462.27,60.77 465.83,61.10 470.00,61.30 C474.17,61.50 478.10,61.82 483.10,62.00 C488.10,62.18 494.72,62.18 500.00,62.40 C505.28,62.62 509.80,62.95 514.80,63.30 C519.80,63.65 524.97,64.32 530.00,64.50 C535.03,64.68 540.38,64.42 545.00,64.40 C549.62,64.38 555.42,64.30 557.70,64.40 C559.98,64.50 558.68,64.48 558.70,65.00 C558.72,65.52 558.20,66.73 557.80,67.50 C557.40,68.27 557.05,68.97 556.30,69.60 C555.55,70.23 554.78,70.73 553.30,71.30 C551.82,71.87 549.83,72.57 547.40,73.00 C544.97,73.43 541.60,73.67 538.70,73.90 C535.80,74.13 533.98,74.25 530.00,74.40 C526.02,74.55 519.80,74.70 514.80,74.80 C509.80,74.90 505.30,74.88 500.00,75.00 C494.70,75.12 488.60,75.25 483.00,75.50 C477.40,75.75 473.32,76.02 466.40,76.50 C459.48,76.98 448.40,77.65 441.50,78.40 C434.60,79.15 429.15,80.20 425.00,81.00 C420.85,81.80 419.10,82.62 416.60,83.20 C414.10,83.78 413.17,83.67 410.00,84.50 C406.83,85.33 400.72,86.85 397.60,88.20 C394.48,89.55 393.08,90.63 391.30,92.60 C389.52,94.57 388.20,97.60 386.90,100.00 C385.60,102.40 384.65,104.08 383.50,107.00 C382.35,109.92 381.08,114.50 380.00,117.50 C378.92,120.50 377.88,122.92 377.00,125.00 C376.12,127.08 375.54,128.54 374.75,130.00 C373.96,131.46 373.29,132.29 372.25,133.75 C371.21,135.21 369.64,137.08 368.50,138.75 C367.36,140.42 366.22,141.71 365.40,143.75 C364.58,145.79 364.12,148.46 363.60,151.00 C363.08,153.54 362.69,156.25 362.30,159.00 C361.91,161.75 361.33,168.17 361.25,167.50 Z" fill="none" stroke="#22a366" stroke-width="1.4"/>
<path d="M361.25,190.00 C361.08,187.92 362.12,172.50 362.50,167.50 C362.88,162.50 363.08,164.17 363.50,160.00 C363.92,155.83 364.53,146.67 365.00,142.50 C365.47,138.33 365.85,138.75 366.30,135.00 C366.75,131.25 367.25,124.17 367.70,120.00 C368.15,115.83 368.45,113.33 369.00,110.00 C369.55,106.67 370.40,102.83 371.00,100.00 C371.60,97.17 371.97,95.33 372.60,93.00 C373.23,90.67 374.15,87.83 374.80,86.00 C375.45,84.17 375.87,83.17 376.50,82.00 C377.13,80.83 377.80,80.83 378.60,79.00 C379.40,77.17 380.43,73.33 381.30,71.00 C382.17,68.67 382.75,67.67 383.80,65.00 C384.85,62.33 386.35,57.92 387.60,55.00 C388.85,52.08 390.32,49.20 391.30,47.50 C392.28,45.80 392.70,45.42 393.50,44.80 C394.30,44.18 395.32,43.90 396.10,43.80 C396.88,43.70 397.53,43.90 398.20,44.20 C398.87,44.50 399.47,44.83 400.10,45.60 C400.73,46.37 401.37,47.65 402.00,48.80 C402.63,49.95 403.28,51.38 403.90,52.50 C404.52,53.62 405.08,54.55 405.70,55.50 C406.32,56.45 406.88,57.45 407.60,58.20 C408.32,58.95 409.05,59.43 410.00,60.00 C410.95,60.57 411.63,61.35 413.30,61.60 C414.97,61.85 416.68,61.63 420.00,61.50 C423.32,61.37 429.03,61.13 433.20,60.80 C437.37,60.47 440.85,59.92 445.00,59.50 C449.15,59.08 453.93,58.42 458.10,58.30 C462.27,58.18 465.83,58.58 470.00,58.80 C474.17,59.02 478.10,59.42 483.10,59.60 C488.10,59.78 494.72,59.75 500.00,59.90 C505.28,60.05 509.80,60.15 514.80,60.50 C519.80,60.85 524.97,61.70 530.00,62.00 C535.03,62.30 540.38,62.23 545.00,62.30 C549.62,62.37 555.42,62.28 557.70,62.40 C559.98,62.52 558.73,62.63 558.70,63.00 C558.67,63.37 557.92,64.10 557.50,64.60 C557.08,65.10 556.90,65.18 556.20,66.00 C555.50,66.82 554.28,68.62 553.30,69.50 C552.32,70.38 551.28,70.82 550.30,71.30 C549.32,71.78 549.33,72.02 547.40,72.40 C545.47,72.78 541.60,73.28 538.70,73.60 C535.80,73.92 533.98,74.10 530.00,74.30 C526.02,74.50 519.80,74.67 514.80,74.80 C509.80,74.93 505.30,74.93 500.00,75.10 C494.70,75.27 488.60,75.50 483.00,75.80 C477.40,76.10 473.32,76.37 466.40,76.90 C459.48,77.43 448.40,78.15 441.50,79.00 C434.60,79.85 429.15,81.08 425.00,82.00 C420.85,82.92 419.10,83.70 416.60,84.50 C414.10,85.30 412.35,86.05 410.00,86.80 C407.65,87.55 404.57,88.30 402.50,89.00 C400.43,89.70 399.25,90.00 397.60,91.00 C395.95,92.00 394.07,93.42 392.60,95.00 C391.13,96.58 389.86,98.83 388.80,100.50 C387.74,102.17 387.22,103.08 386.25,105.00 C385.28,106.92 384.21,109.50 383.00,112.00 C381.79,114.50 380.25,116.50 379.00,120.00 C377.75,123.50 376.58,128.42 375.50,133.00 C374.42,137.58 373.58,143.17 372.50,147.50 C371.42,151.83 370.04,155.25 369.00,159.00 C367.96,162.75 367.17,166.50 366.25,170.00 C365.33,173.50 364.33,176.67 363.50,180.00 C362.67,183.33 361.42,192.08 361.25,190.00 Z" fill="none" stroke="#a855ee" stroke-width="1.4"/>
<rect x="48.10" y="258.90" width="230.40" height="185.70" fill="none" stroke="#303030" stroke-width="1.3"/>
<line x1="73.30" y1="444.60" x2="73.30" y2="448.10" stroke="#303030" stroke-width="1.1"/>
<text x="73.30" y="458.90" font-size="9.6" font-weight="bold" text-anchor="middle" fill="#111" stroke="#111" stroke-width="0.3" >-1.0</text>
<line x1="124.50" y1="444.60" x2="124.50" y2="448.10" stroke="#303030" stroke-width="1.1"/>
<text x="124.50" y="458.90" font-size="9.6" font-weight="bold" text-anchor="middle" fill="#111" stroke="#111" stroke-width="0.3" >-0.8</text>
<line x1="175.70" y1="444.60" x2="175.70" y2="448.10" stroke="#303030" stroke-width="1.1"/>
<text x="175.70" y="458.90" font-size="9.6" font-weight="bold" text-anchor="middle" fill="#111" stroke="#111" stroke-width="0.3" >-0.6</text>
<line x1="226.90" y1="444.60" x2="226.90" y2="448.10" stroke="#303030" stroke-width="1.1"/>
<text x="226.90" y="458.90" font-size="9.6" font-weight="bold" text-anchor="middle" fill="#111" stroke="#111" stroke-width="0.3" >-0.4</text>
<line x1="278.10" y1="444.60" x2="278.10" y2="448.10" stroke="#303030" stroke-width="1.1"/>
<text x="278.10" y="458.90" font-size="9.6" font-weight="bold" text-anchor="middle" fill="#111" stroke="#111" stroke-width="0.3" >-0.2</text>
<line x1="98.90" y1="444.60" x2="98.90" y2="446.60" stroke="#303030" stroke-width="1.1"/>
<line x1="150.10" y1="444.60" x2="150.10" y2="446.60" stroke="#303030" stroke-width="1.1"/>
<line x1="201.30" y1="444.60" x2="201.30" y2="446.60" stroke="#303030" stroke-width="1.1"/>
<line x1="252.50" y1="444.60" x2="252.50" y2="446.60" stroke="#303030" stroke-width="1.1"/>
<line x1="48.10" y1="444.60" x2="48.10" y2="446.60" stroke="#303030" stroke-width="1.1"/>
<line x1="48.10" y1="258.90" x2="44.10" y2="258.90" stroke="#303030" stroke-width="1.1"/>
<text x="41.30" y="262.10" font-size="9.6" font-weight="bold" text-anchor="end" fill="#111" stroke="#111" stroke-width="0.3" >-0.8</text>
<line x1="48.10" y1="292.70" x2="44.10" y2="292.70" stroke="#303030" stroke-width="1.1"/>
<text x="41.30" y="295.90" font-size="9.6" font-weight="bold" text-anchor="end" fill="#111" stroke="#111" stroke-width="0.3" >-1.0</text>
<line x1="48.10" y1="326.50" x2="44.10" y2="326.50" stroke="#303030" stroke-width="1.1"/>
<text x="41.30" y="329.70" font-size="9.6" font-weight="bold" text-anchor="end" fill="#111" stroke="#111" stroke-width="0.3" >-1.2</text>
<line x1="48.10" y1="360.30" x2="44.10" y2="360.30" stroke="#303030" stroke-width="1.1"/>
<text x="41.30" y="363.50" font-size="9.6" font-weight="bold" text-anchor="end" fill="#111" stroke="#111" stroke-width="0.3" >-1.4</text>
<line x1="48.10" y1="394.10" x2="44.10" y2="394.10" stroke="#303030" stroke-width="1.1"/>
<text x="41.30" y="397.30" font-size="9.6" font-weight="bold" text-anchor="end" fill="#111" stroke="#111" stroke-width="0.3" >-1.6</text>
<line x1="48.10" y1="427.90" x2="44.10" y2="427.90" stroke="#303030" stroke-width="1.1"/>
<text x="41.30" y="431.10" font-size="9.6" font-weight="bold" text-anchor="end" fill="#111" stroke="#111" stroke-width="0.3" >-1.8</text>
<line x1="48.10" y1="275.80" x2="46.10" y2="275.80" stroke="#303030" stroke-width="1.1"/>
<line x1="48.10" y1="309.60" x2="46.10" y2="309.60" stroke="#303030" stroke-width="1.1"/>
<line x1="48.10" y1="343.40" x2="46.10" y2="343.40" stroke="#303030" stroke-width="1.1"/>
<line x1="48.10" y1="377.20" x2="46.10" y2="377.20" stroke="#303030" stroke-width="1.1"/>
<line x1="48.10" y1="411.00" x2="46.10" y2="411.00" stroke="#303030" stroke-width="1.1"/>
<line x1="48.10" y1="444.80" x2="46.10" y2="444.80" stroke="#303030" stroke-width="1.1"/>
<text x="161.00" y="469.20" font-size="12.45" font-weight="bold" text-anchor="middle" fill="#111" stroke="#111" stroke-width="0.3" >log (v, scan rate)</text>
<text transform="translate(21.9,346.9) rotate(-90)" font-size="12.3" font-weight="bold" text-anchor="middle" fill="#111" stroke="#111" stroke-width="0.3">log (i,current)</text>
<text x="1.60" y="259.90" font-size="21.5" font-weight="normal" text-anchor="start" fill="#111" stroke="#111" stroke-width="0" >(c)</text>
<defs><radialGradient id="gr" cx="0.5" cy="0.5" r="0.55" fx="0.33" fy="0.3"><stop offset="0" stop-color="#ffffff"/><stop offset="0.16" stop-color="#ffe4e4"/><stop offset="0.34" stop-color="#ff3030"/><stop offset="0.7" stop-color="#ff0000"/><stop offset="1" stop-color="#e20000"/></radialGradient><radialGradient id="go" cx="0.5" cy="0.5" r="0.55" fx="0.33" fy="0.3"><stop offset="0" stop-color="#ffffff"/><stop offset="0.16" stop-color="#ffe8cc"/><stop offset="0.34" stop-color="#ff9428"/><stop offset="0.7" stop-color="#ff8000"/><stop offset="1" stop-color="#ee7000"/></radialGradient><linearGradient id="gm" x1="0" x2="1" y1="0" y2="0"><stop offset="0" stop-color="#f000f0"/><stop offset="0.06" stop-color="#ff10ff"/><stop offset="0.2" stop-color="#ff42ff"/><stop offset="0.38" stop-color="#ff76ff"/><stop offset="0.55" stop-color="#ff84ff"/><stop offset="0.66" stop-color="#ff7aff"/><stop offset="0.82" stop-color="#ff4cff"/><stop offset="0.94" stop-color="#ff14ff"/><stop offset="1" stop-color="#f000f0"/></linearGradient><linearGradient id="gy" x1="0" x2="1" y1="0" y2="0"><stop offset="0" stop-color="#ff8000"/><stop offset="0.1" stop-color="#fd9410"/><stop offset="0.28" stop-color="#f6b024"/><stop offset="0.45" stop-color="#f1c22e"/><stop offset="0.58" stop-color="#f1c22e"/><stop offset="0.74" stop-color="#f6b024"/><stop offset="0.9" stop-color="#fd9410"/><stop offset="1" stop-color="#ff8000"/></linearGradient></defs>
<line x1="73.40" y1="347.70" x2="253.00" y2="268.20" stroke="#ff8c1a" stroke-width="1.1"/>
<line x1="73.20" y1="411.90" x2="252.90" y2="327.70" stroke="#ff2020" stroke-width="1.1"/>
<circle cx="73.50" cy="350.16" r="3.8" fill="url(#go)"/>
<circle cx="150.56" cy="309.43" r="3.8" fill="url(#go)"/>
<circle cx="195.61" cy="290.67" r="3.8" fill="url(#go)"/>
<circle cx="227.61" cy="279.86" r="3.8" fill="url(#go)"/>
<circle cx="252.44" cy="268.87" r="3.8" fill="url(#go)"/>
<circle cx="73.50" cy="406.44" r="3.8" fill="url(#gr)"/>
<circle cx="150.56" cy="387.00" r="3.8" fill="url(#gr)"/>
<circle cx="195.61" cy="352.69" r="3.8" fill="url(#gr)"/>
<circle cx="227.61" cy="338.33" r="3.8" fill="url(#gr)"/>
<circle cx="252.44" cy="327.51" r="3.8" fill="url(#gr)"/>
<circle cx="57" cy="268.4" r="4" fill="url(#gr)"/>
<circle cx="57" cy="282.9" r="4" fill="url(#go)"/>
<text x="71.90" y="272.00" font-size="11.1" font-weight="bold" text-anchor="start" fill="#111" stroke="#111" stroke-width="0.3" >Peak&#160;&#160;I</text>
<text x="71.90" y="286.30" font-size="11.1" font-weight="bold" text-anchor="start" fill="#111" stroke="#111" stroke-width="0.3" >Peak&#160;&#160;II</text>
<text x="232" y="417.2" font-size="11" font-weight="bold" fill="#ff1a1a" stroke="#ff1a1a" stroke-width="0.3">b<tspan font-size="7.5" dy="2.5">1</tspan><tspan dy="-2.5">=0.701</tspan></text>
<text x="232" y="434.0" font-size="11" font-weight="bold" fill="#ff8c1a" stroke="#ff8c1a" stroke-width="0.3">b<tspan font-size="7.5" dy="2.5">2</tspan><tspan dy="-2.5">=0.685</tspan></text>
<rect x="355.00" y="280.20" width="33.0" height="126.67" fill="url(#gm)"/>
<rect x="355.00" y="406.88" width="33.0" height="42.23" fill="url(#gy)"/>
<text x="371.70" y="431.89" font-size="11.0" font-weight="bold" text-anchor="middle" fill="#ffffff" stroke="#ffffff" stroke-width="0.2" >25%</text>
<rect x="405.90" y="280.20" width="33.0" height="74.32" fill="url(#gm)"/>
<rect x="405.90" y="354.52" width="33.0" height="94.58" fill="url(#gy)"/>
<text x="422.60" y="405.71" font-size="11.0" font-weight="bold" text-anchor="middle" fill="#ffffff" stroke="#ffffff" stroke-width="0.2" >56%</text>
<rect x="456.80" y="280.20" width="33.0" height="62.49" fill="url(#gm)"/>
<rect x="456.80" y="342.69" width="33.0" height="106.41" fill="url(#gy)"/>
<text x="473.50" y="399.80" font-size="11.0" font-weight="bold" text-anchor="middle" fill="#ffffff" stroke="#ffffff" stroke-width="0.2" >63%</text>
<rect x="507.70" y="280.20" width="33.0" height="38.85" fill="url(#gm)"/>
<rect x="507.70" y="319.05" width="33.0" height="130.05" fill="url(#gy)"/>
<text x="524.40" y="387.97" font-size="11.0" font-weight="bold" text-anchor="middle" fill="#ffffff" stroke="#ffffff" stroke-width="0.2" >77%</text>
<rect x="558.60" y="280.20" width="33.0" height="27.02" fill="url(#gm)"/>
<rect x="558.60" y="307.22" width="33.0" height="141.88" fill="url(#gy)"/>
<text x="575.30" y="382.06" font-size="11.0" font-weight="bold" text-anchor="middle" fill="#ffffff" stroke="#ffffff" stroke-width="0.2" >84%</text>
<rect x="346.20" y="255.00" width="253.20" height="194.10" fill="none" stroke="#303030" stroke-width="1.3"/>
<line x1="371.50" y1="449.10" x2="371.50" y2="452.60" stroke="#303030" stroke-width="1.1"/>
<text x="371.50" y="462.80" font-size="9.6" font-weight="bold" text-anchor="middle" fill="#111" stroke="#111" stroke-width="0.3" >0.1</text>
<line x1="422.40" y1="449.10" x2="422.40" y2="452.60" stroke="#303030" stroke-width="1.1"/>
<text x="422.40" y="462.80" font-size="9.6" font-weight="bold" text-anchor="middle" fill="#111" stroke="#111" stroke-width="0.3" >0.2</text>
<line x1="473.30" y1="449.10" x2="473.30" y2="452.60" stroke="#303030" stroke-width="1.1"/>
<text x="473.30" y="462.80" font-size="9.6" font-weight="bold" text-anchor="middle" fill="#111" stroke="#111" stroke-width="0.3" >0.3</text>
<line x1="524.20" y1="449.10" x2="524.20" y2="452.60" stroke="#303030" stroke-width="1.1"/>
<text x="524.20" y="462.80" font-size="9.6" font-weight="bold" text-anchor="middle" fill="#111" stroke="#111" stroke-width="0.3" >0.4</text>
<line x1="575.10" y1="449.10" x2="575.10" y2="452.60" stroke="#303030" stroke-width="1.1"/>
<text x="575.10" y="462.80" font-size="9.6" font-weight="bold" text-anchor="middle" fill="#111" stroke="#111" stroke-width="0.3" >0.5</text>
<line x1="396.95" y1="449.10" x2="396.95" y2="451.10" stroke="#303030" stroke-width="1.1"/>
<line x1="447.85" y1="449.10" x2="447.85" y2="451.10" stroke="#303030" stroke-width="1.1"/>
<line x1="498.75" y1="449.10" x2="498.75" y2="451.10" stroke="#303030" stroke-width="1.1"/>
<line x1="549.65" y1="449.10" x2="549.65" y2="451.10" stroke="#303030" stroke-width="1.1"/>
<line x1="346.20" y1="449.10" x2="342.20" y2="449.10" stroke="#303030" stroke-width="1.1"/>
<text x="340.00" y="452.30" font-size="9.6" font-weight="bold" text-anchor="end" fill="#111" stroke="#111" stroke-width="0.3" >0</text>
<line x1="346.20" y1="415.32" x2="342.20" y2="415.32" stroke="#303030" stroke-width="1.1"/>
<text x="340.00" y="418.52" font-size="9.6" font-weight="bold" text-anchor="end" fill="#111" stroke="#111" stroke-width="0.3" >20</text>
<line x1="346.20" y1="381.54" x2="342.20" y2="381.54" stroke="#303030" stroke-width="1.1"/>
<text x="340.00" y="384.74" font-size="9.6" font-weight="bold" text-anchor="end" fill="#111" stroke="#111" stroke-width="0.3" >40</text>
<line x1="346.20" y1="347.76" x2="342.20" y2="347.76" stroke="#303030" stroke-width="1.1"/>
<text x="340.00" y="350.96" font-size="9.6" font-weight="bold" text-anchor="end" fill="#111" stroke="#111" stroke-width="0.3" >60</text>
<line x1="346.20" y1="313.98" x2="342.20" y2="313.98" stroke="#303030" stroke-width="1.1"/>
<text x="340.00" y="317.18" font-size="9.6" font-weight="bold" text-anchor="end" fill="#111" stroke="#111" stroke-width="0.3" >80</text>
<line x1="346.20" y1="280.20" x2="342.20" y2="280.20" stroke="#303030" stroke-width="1.1"/>
<text x="340.00" y="283.40" font-size="9.6" font-weight="bold" text-anchor="end" fill="#111" stroke="#111" stroke-width="0.3" >100</text>
<line x1="346.20" y1="432.21" x2="344.20" y2="432.21" stroke="#303030" stroke-width="1.1"/>
<line x1="346.20" y1="398.43" x2="344.20" y2="398.43" stroke="#303030" stroke-width="1.1"/>
<line x1="346.20" y1="364.65" x2="344.20" y2="364.65" stroke="#303030" stroke-width="1.1"/>
<line x1="346.20" y1="330.87" x2="344.20" y2="330.87" stroke="#303030" stroke-width="1.1"/>
<line x1="346.20" y1="297.09" x2="344.20" y2="297.09" stroke="#303030" stroke-width="1.1"/>
<line x1="346.20" y1="263.31" x2="344.20" y2="263.31" stroke="#303030" stroke-width="1.1"/>
<text x="473.4" y="475.1" font-size="12.4" font-weight="bold" text-anchor="middle" fill="#111" stroke="#111" stroke-width="0.3">Scan rate (mV s<tspan font-size="8" dy="-4.5">-1</tspan><tspan dy="4.5">)</tspan></text>
<text transform="translate(324.6,351.5) rotate(-90)" font-size="12.2" font-weight="bold" text-anchor="middle" fill="#111" stroke="#111" stroke-width="0.3">Contribution (%)</text>
<text x="306.60" y="259.60" font-size="21.5" font-weight="normal" text-anchor="start" fill="#111" stroke="#111" stroke-width="0" >(d)</text>
<rect x="370" y="263" width="19" height="9.3" fill="url(#gm)"/>
<text x="394.30" y="271.20" font-size="11.2" font-weight="bold" text-anchor="start" fill="#111" stroke="#111" stroke-width="0.3" >Diffusion</text>
<rect x="519.8" y="263.4" width="18.8" height="9" fill="url(#gy)"/>
<text x="543.80" y="271.20" font-size="11.2" font-weight="bold" text-anchor="start" fill="#111" stroke="#111" stroke-width="0.3" >Capacitive</text>
</svg>
</body></html>
